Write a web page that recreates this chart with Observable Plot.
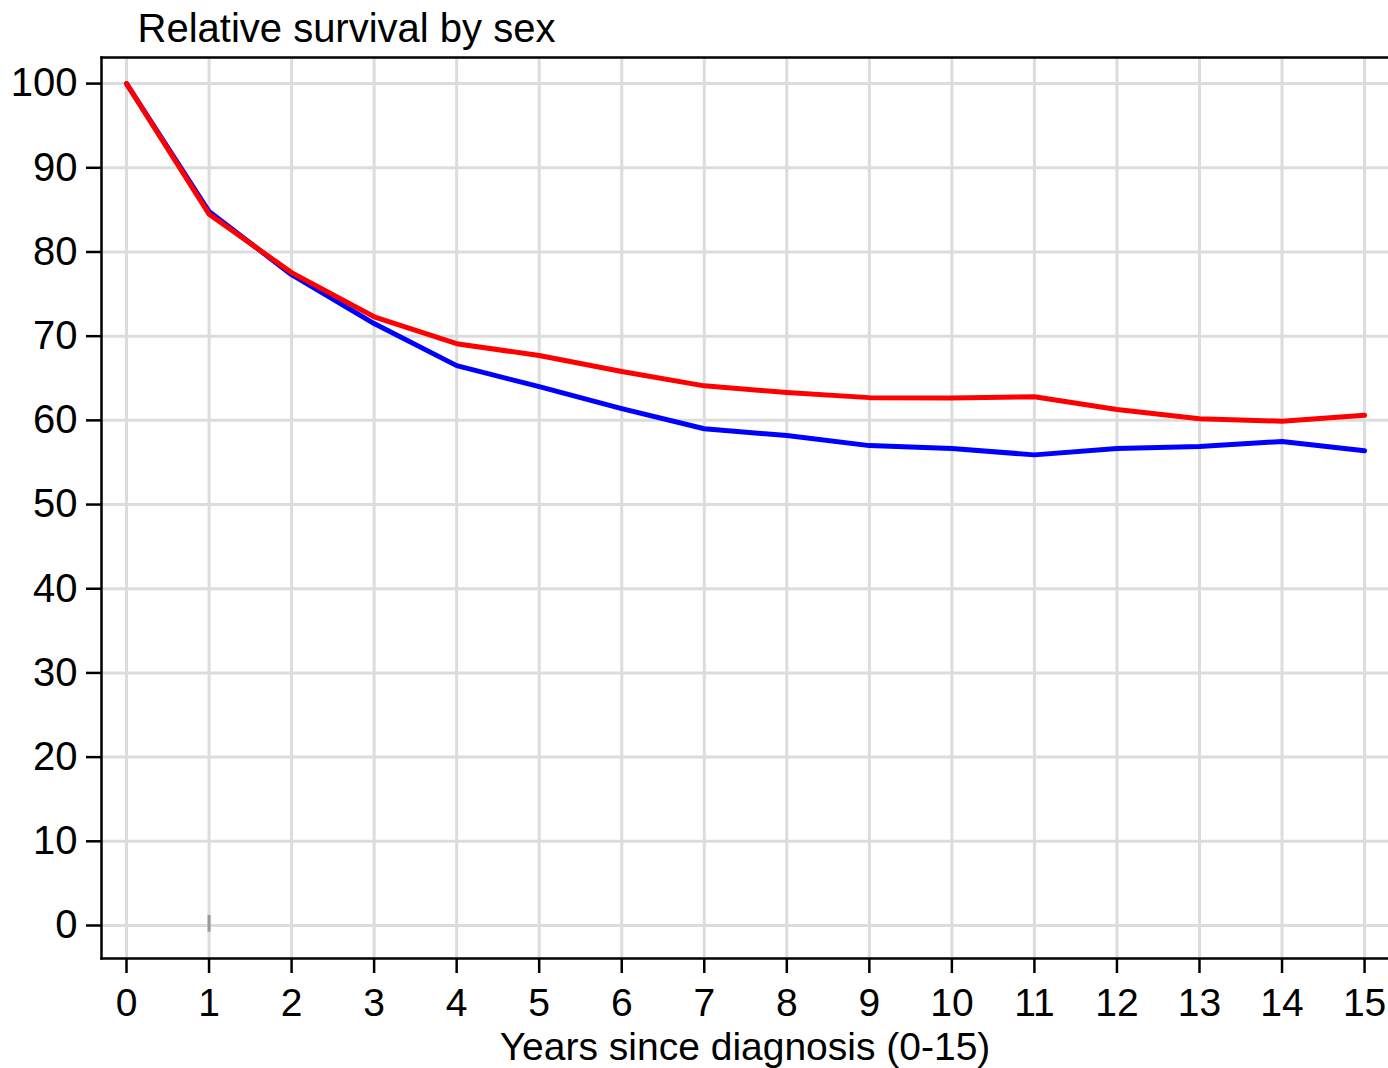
<!DOCTYPE html>
<html>
<head>
<meta charset="utf-8">
<script src="https://cdn.jsdelivr.net/npm/d3@7"></script>
<script src="https://cdn.jsdelivr.net/npm/@observablehq/plot@0.6"></script>
<style>
  html, body { margin: 0; padding: 0; background: #fff; }
  #chart svg { display: block; }
</style>
</head>
<body>
<div id="chart"></div>
<script>
const years = [0, 1, 2, 3, 4, 5, 6, 7, 8, 9, 10, 11, 12, 13, 14, 15];
const males = [100, 84.8, 77.3, 71.5, 66.5, 64.0, 61.4, 59.0, 58.2, 57.0, 56.65, 55.9, 56.65, 56.9, 57.5, 56.4];
const females = [100, 84.5, 77.55, 72.3, 69.1, 67.7, 65.8, 64.1, 63.3, 62.7, 62.65, 62.8, 61.3, 60.2, 59.9, 60.6];
const xTicks = years;
const yTicks = [0, 10, 20, 30, 40, 50, 60, 70, 80, 90, 100];
const markX = [1];
const markLow = [-0.8];
const markHigh = [1.2];
const titleText = "Relative survival by sex";
const xLabel = "Years since diagnosis (0-15)";

const rows = [];
years.forEach((t, i) => {
  rows.push({t, v: males[i], sex: "Male"});
});
years.forEach((t, i) => {
  rows.push({t, v: females[i], sex: "Female"});
});

const chart = Plot.plot({
  width: 1388,
  height: 1068,
  marginLeft: 101,
  marginRight: 0,
  marginTop: 57,
  marginBottom: 110,
  style: {fontFamily: "'Liberation Sans', Arial, sans-serif", fontSize: "40px", color: "#000", background: "#fff"},
  x: {domain: [-0.303, 15.29]},
  y: {domain: [-3.92, 103.1]},
  marks: [
    Plot.gridX(xTicks, {stroke: "#dcdcdc", strokeOpacity: 1, strokeWidth: 3}),
    Plot.gridY(yTicks, {stroke: "#dcdcdc", strokeOpacity: 1, strokeWidth: 3}),
    Plot.frame({anchor: "top", stroke: "#000", strokeWidth: 2.5}),
    Plot.frame({anchor: "left", stroke: "#000", strokeWidth: 2.5}),
    Plot.frame({anchor: "bottom", stroke: "#000", strokeWidth: 2.5}),
    Plot.axisX(xTicks, {tickSize: 15, tickPadding: 15, strokeWidth: 2.5, fontSize: 39, label: null, tickFormat: d => String(d)}),
    Plot.axisY(yTicks, {tickSize: 15, tickPadding: 9, strokeWidth: 2.5, fontSize: 40, label: null, tickFormat: d => String(d)}),
    Plot.ruleX(markX, {x: d => d, y1: (d, i) => markLow[i], y2: (d, i) => markHigh[i], stroke: "#999", strokeWidth: 3}),
    Plot.line(rows, {x: "t", y: "v", z: "sex", stroke: d => d.sex === "Male" ? "#0000ff" : "#ff0000", strokeWidth: 5, strokeLinejoin: "round"}),
    Plot.text([titleText], {frameAnchor: "top-left", textAnchor: "start", dx: 36, dy: -28, lineAnchor: "middle", fontSize: 40, fill: "#000"}),
    Plot.text([xLabel], {frameAnchor: "bottom", dy: 89, lineAnchor: "middle", fontSize: 39, fill: "#000"})
  ]
});
document.getElementById("chart").appendChild(chart);
</script>
</body>
</html>
